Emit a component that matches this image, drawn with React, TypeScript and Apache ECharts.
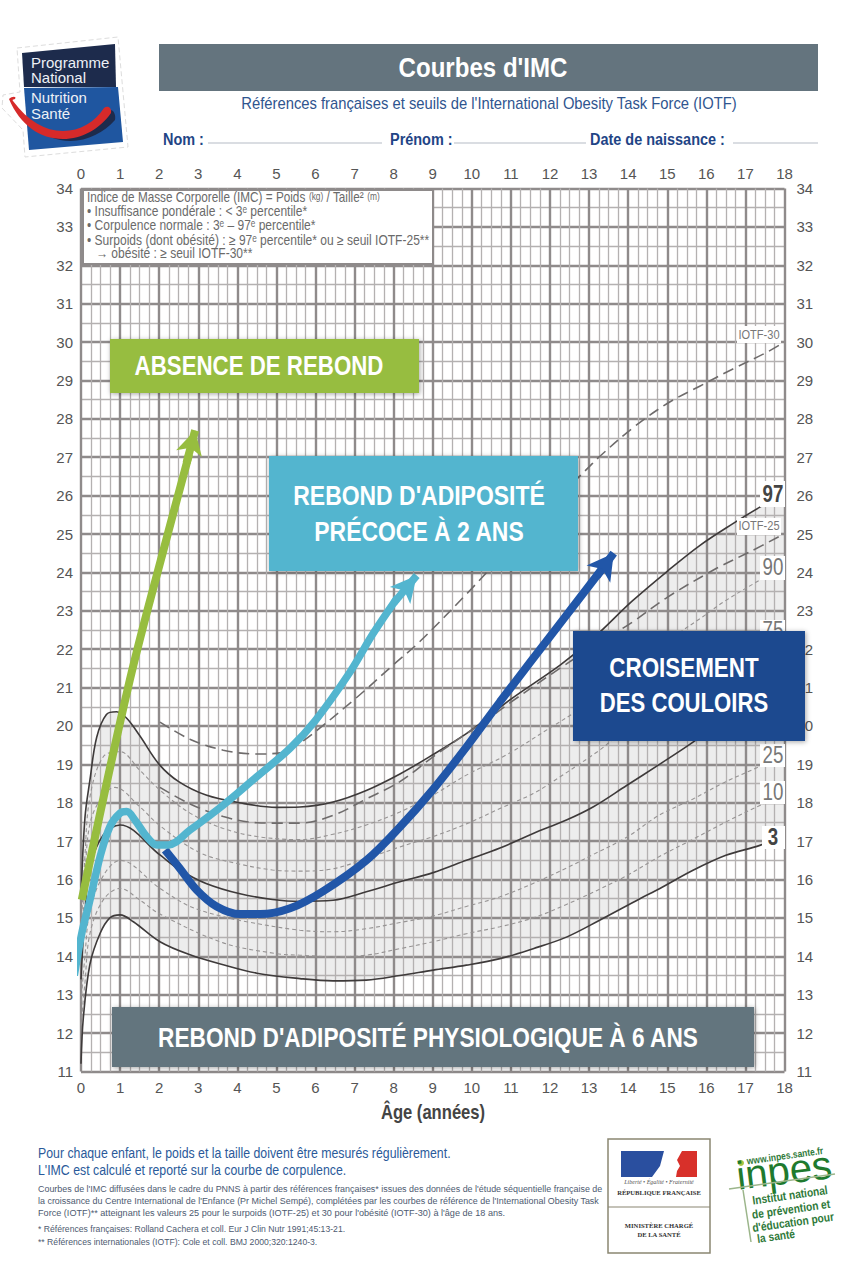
import React, { useEffect, useRef } from "react";
import * as echarts from "echarts";

type P = [number, number];

const ageTicks = [0, 18];
const bmiRange = [11, 34];

const p97: P[] = [[0,15.5],[0.1,17.6],[0.23,18.6],[0.4,19.7],[0.65,20.3],[0.91,20.37],[1.17,20.2],[1.5,19.75],[2,19],[2.5,18.55],[3.2,18.2],[4.05,18],[5,17.88],[5.6,17.89],[6.45,18.02],[7.3,18.32],[8.16,18.75],[9,19.25],[9.86,19.8],[10.37,20.19],[11,20.7],[12.25,21.58],[13.1,22.28],[14.1,23.25],[15,24.03],[15.83,24.7],[16.68,25.27],[17.37,25.7],[18,26.05]];
const p90: P[] = [[0,14.5],[0.1,16.6],[0.23,18.16],[0.57,19.2],[1,19.33],[1.5,18.85],[2.02,18.33],[2.79,17.73],[3.64,17.33],[4.5,17.12],[5.6,17.04],[6.45,17.18],[7.3,17.42],[8.16,17.76],[9.01,18.2],[9.86,18.72],[10.89,19.25],[12,19.95],[12.55,20.3],[14,21.3],[15,22.2],[15.9,22.84],[16.47,23.25],[17.37,23.8],[18,24.15]];
const p75: P[] = [[0,13.9],[0.1,15.9],[0.23,17.46],[0.57,18.2],[0.87,18.4],[1.5,17.9],[2.02,17.4],[3.04,16.7],[4.07,16.4],[4.9,16.25],[5.6,16.22],[6.45,16.28],[7.3,16.55],[8.16,16.85],[9.01,17.12],[9.86,17.45],[10.72,17.85],[11.57,18.24],[12.25,18.67],[13.27,19.37],[13.53,19.58],[15,20.7],[16,21.5],[17,22.1],[18,22.5]];
const p50: P[] = [[0,13.4],[0.1,15.1],[0.23,16.33],[0.57,17.16],[1,17.42],[2.02,16.64],[2.53,16.25],[3.2,15.9],[4.07,15.63],[4.9,15.48],[5.6,15.43],[6.45,15.46],[7.3,15.68],[8.16,15.94],[9.01,16.18],[9.86,16.5],[10.72,16.82],[11.57,17.2],[12.42,17.55],[13.1,17.89],[13.96,18.45],[14.8,19],[15.66,19.58],[16,19.85],[17,20.5],[18,21]];
const p25: P[] = [[0,12.8],[0.1,14.0],[0.23,15.2],[0.57,16.1],[1,16.5],[2.02,15.77],[2.79,15.3],[3.64,15.03],[4.24,14.9],[5.6,14.68],[6.45,14.64],[7.3,14.72],[8.16,14.88],[9.01,15.05],[9.86,15.3],[10.72,15.55],[11.57,15.9],[12.42,16.3],[13.1,16.65],[13.96,17.1],[14.8,17.68],[15.66,18.1],[16.5,18.55],[17.37,18.95],[18,19.3]];
const p10: P[] = [[0,12.2],[0.1,13.3],[0.23,14.6],[0.57,15.47],[1,15.77],[1.5,15.47],[2.02,15.1],[3.64,14.35],[5,14.07],[5.6,14.03],[6.45,13.99],[7.3,14.03],[8.16,14.2],[9.01,14.38],[9.86,14.59],[10.72,14.77],[11.57,15.0],[12.42,15.35],[13.27,15.75],[13.96,16.1],[14.8,16.6],[15.66,17.05],[16.5,17.5],[17.37,17.93],[18,18.2]];
const p3: P[] = [[0,11.2],[0.06,12.4],[0.23,13.8],[0.49,14.6],[0.74,15],[1,15.08],[1.34,14.9],[2.02,14.38],[2.79,14.04],[3.64,13.78],[4.5,13.56],[5.6,13.42],[6.45,13.36],[7.3,13.38],[8.16,13.5],[9.01,13.64],[9.86,13.77],[10.72,13.94],[11.57,14.2],[12.42,14.5],[13.27,14.94],[14.3,15.5],[14.8,15.76],[15.66,16.24],[16.5,16.63],[17.37,16.89],[18,17.15]];
const iotf30: P[] = [[2.02,20.1],[2.8,19.65],[3.64,19.37],[4.5,19.27],[5.09,19.3],[5.6,19.55],[6.97,20.67],[8,21.6],[8.67,22.2],[9.95,23.53],[11.48,25.2],[13,26.75],[13.27,27.02],[14.1,27.75],[15,28.4],[15.83,28.85],[16.68,29.3],[17.54,29.73],[17.95,29.97]];
const iotf25: P[] = [[2.02,18.4],[2.79,17.97],[3.64,17.64],[4.5,17.48],[5.09,17.47],[5.6,17.47],[6.45,17.67],[7.3,18.1],[8.16,18.55],[9,19.19],[9.86,19.8],[10.37,20.15],[11,20.62],[12.25,21.5],[13,22.0],[14.1,22.7],[15,23.35],[16.25,24.1],[17.1,24.53],[17.95,24.98]];

const trendGreen: P[] = [[0.02,15.47],[1.25,21.2],[2.22,25],[2.76,27.05]];
const trendGreenHead: P[] = [[2.7,26.85],[2.92,27.7]];
const trendTeal: P[] = [[-0.17,13.5],[0.02,14.6],[0.23,15.47],[0.49,16.6],[0.74,17.38],[1,17.73],[1.17,17.77],[1.38,17.55],[1.68,17.12],[1.94,16.9],[2.23,16.9],[2.79,17.29],[3.64,17.94],[4.5,18.68],[5.35,19.42],[5.98,20.12],[6.88,21.4],[7.47,22.4],[8.1,23.35]];
const trendTealHead: P[] = [[8.0,23.2],[8.59,23.92]];
const trendBlue: P[] = [[2.15,16.77],[2.53,16.29],[2.96,15.73],[3.47,15.3],[4.07,15.1],[4.58,15.1],[5.35,15.25],[6.2,15.7],[7.3,16.5],[8.16,17.37],[9.01,18.35],[9.86,19.45],[10.72,20.63],[12.25,22.66],[13.3,24.05]];
const trendBlueHead: P[] = [[13.2,23.9],[13.63,24.5]];

const SANS = '"Liberation Sans",Arial,sans-serif';

echarts.graphic.registerShape("swooshRed", echarts.graphic.extendPath("M9 99 C 12 96 17 96 15 99 C 13 100 12 99 13 101 C 28 121 45 131 63 131 C 80 131 95 122 104 108 C 108 105 112 108 111 113 C 100 129 82 139 63 139 C 40 139 20 125 9 99 Z", {}));
echarts.graphic.registerShape("swooshDark", echarts.graphic.extendPath("M50 137 C 70 142 95 130 110 110 C 114 110 116 115 115 120 C 100 137 75 147 50 137 Z", {}));

function txt(text: string, x: number, y: number, size: number, fill: string, extra: any = {}) {
  const { align = "left", weight = "normal", family = SANS, rich, style, scaleX = 0.85, ...rest } = extra;
  return {
    type: "text", x, y, z: 100, scaleX, ...rest,
    style: {
      text, fill, rich, fontSize: size, fontFamily: family, fontWeight: weight,
      font: `${weight} ${size}px ${family}`,
      align, textAlign: align, verticalAlign: "middle", textVerticalAlign: "middle", ...style,
    },
  };
}
function box(x: number, y: number, width: number, height: number, fill: string, extra: any = {}) {
  const { stroke, lineWidth, shadow, z = 100 } = extra;
  return {
    type: "rect", z, shape: { x, y, width, height },
    style: { fill, stroke, lineWidth, ...(shadow ? { shadowBlur: 5, shadowColor: "rgba(0,0,0,0.35)", shadowOffsetX: 1, shadowOffsetY: 1 } : {}) },
  };
}
function seg(x1: number, y1: number, x2: number, y2: number, stroke: string, lineWidth: number) {
  return { type: "line", z: 100, shape: { x1, y1, x2, y2 }, style: { stroke, lineWidth } };
}

const SLATE = "#64747e", NAVY = "#1f4586", GREEN = "#97bd3f", TEAL = "#53b5cf", BLUE = "#1e4a8f", LINE_BLUE = "#2156a8", DGREEN = "#2f7a3a";
const GRAYTXT = "#6a6a6a";
const labelNum = { align: "center", scaleX: 0.78 };

const graphicEls: any[] = [
  // PNNS logo
  { type: "polygon", z: 99, shape: { points: [[17,48],[118,37],[128,147],[25,157],[23,130],[2,108],[3,95],[20,92]] }, style: { fill: "#fff", stroke: "#ddd", lineWidth: 1, lineDash: [5, 3] } },
  { type: "polygon", z: 100, shape: { points: [[22,53],[115,44],[116,87],[24,87]] }, style: { fill: "#1d2b4c" } },
  { type: "polygon", z: 100, shape: { points: [[24,88],[118,87],[123,142],[29,150]] }, style: { fill: "#1f56a0" } },
  txt("Programme", 31, 62, 15, "#eef1f6", { scaleX: 1 }),
  txt("National", 31, 77, 15, "#eef1f6", { scaleX: 1 }),
  txt("Nutrition", 31, 97, 15, "#eef1f6", { scaleX: 1 }),
  txt("Santé", 31, 113, 15, "#eef1f6", { scaleX: 1 }),
  { type: "swooshDark", z: 100, x: 0, y: 0, style: { fill: "#1d2b4c" } },
  { type: "swooshRed", z: 101, x: 0, y: 0, style: { fill: "#d62a2a" } },
  // header
  box(159, 44, 659, 47, SLATE),
  txt("Courbes d'IMC", 483, 67, 28, "#fff", { align: "center", weight: "bold", scaleX: 0.86 }),
  txt("Références françaises et seuils de l'International Obesity Task Force (IOTF)", 489, 103, 17, "#2f558f", { align: "center", scaleX: 0.87 }),
  txt("Nom :", 163, 139, 17, NAVY, { weight: "bold" }),
  txt("Prénom :", 390, 139, 17, NAVY, { weight: "bold" }),
  txt("Date de naissance :", 590, 139, 17, NAVY, { weight: "bold" }),
  seg(208, 143, 382, 143, "#b5bcc6", 1.2), seg(454, 143, 586, 143, "#b5bcc6", 1.2), seg(733, 143, 818, 143, "#b5bcc6", 1.2),
  // definition box
  box(83, 190, 350, 74, "#fff", { stroke: "#8e8a8a", lineWidth: 2 }),
  txt("{a|Indice de Masse Corporelle (IMC) = Poids }{b|(kg)}{a| / Taille² }{b|(m)}", 87, 197, 14, GRAYTXT, { scaleX: 0.84, style: { rich: { a: { fontSize: 14, fontFamily: SANS, fill: GRAYTXT }, b: { fontSize: 10, fontFamily: SANS, fill: GRAYTXT } } } }),
  txt("• Insuffisance pondérale : < 3ᵉ percentile*", 87, 211, 14, GRAYTXT, { scaleX: 0.86 }),
  txt("• Corpulence normale : 3ᵉ – 97ᵉ percentile*", 87, 225, 14, GRAYTXT, { scaleX: 0.86 }),
  txt("• Surpoids (dont obésité) : ≥ 97ᵉ percentile* ou ≥ seuil IOTF-25**", 87, 240, 14, GRAYTXT, { scaleX: 0.86 }),
  txt("→ obésité : ≥ seuil IOTF-30**", 96, 253, 14, GRAYTXT, { scaleX: 0.86 }),
  // curve labels
  box(737, 326, 44, 17, "#fff"), txt("IOTF-30", 759, 335, 13, "#777", { align: "center" }),
  box(737, 518, 44, 17, "#fff"), txt("IOTF-25", 759, 526, 13, "#777", { align: "center" }),
  box(760, 481, 25, 26, "#fff"), txt("97", 773, 494, 24, "#444", { ...labelNum, weight: "bold" }),
  box(760, 556, 25, 24, "#fff"), txt("90", 773, 567, 24, "#777", labelNum),
  box(760, 620, 25, 24, "#fff"), txt("75", 773, 630, 24, "#777", labelNum),
  box(760, 744, 25, 23, "#fff"), txt("25", 773, 755, 24, "#777", labelNum),
  box(760, 781, 25, 23, "#fff"), txt("10", 773, 792, 24, "#777", labelNum),
  box(762, 826, 23, 23, "#fff"), txt("3", 773, 837, 24, "#444", { ...labelNum, weight: "bold" }),
  // callouts
  box(110, 339, 309, 54, GREEN, { z: 102, shadow: true }),
  txt("ABSENCE DE REBOND", 259, 366, 27, "#fff", { align: "center", weight: "bold", z: 103, scaleX: 0.825 }),
  box(269, 456, 309, 115, TEAL, { z: 102, shadow: true }),
  txt("REBOND D'ADIPOSITÉ", 419, 495, 27, "#fff", { align: "center", weight: "bold", z: 103 }),
  txt("PRÉCOCE À 2 ANS", 419, 531, 27, "#fff", { align: "center", weight: "bold", z: 103 }),
  box(573, 631, 232, 110, BLUE, { z: 102, shadow: true }),
  txt("CROISEMENT", 684, 668, 27, "#fff", { align: "center", weight: "bold", z: 103, scaleX: 0.83 }),
  txt("DES COULOIRS", 684, 703, 27, "#fff", { align: "center", weight: "bold", z: 103, scaleX: 0.82 }),
  box(112, 1007, 642, 60, SLATE, { z: 102, shadow: true }),
  txt("REBOND D'ADIPOSITÉ PHYSIOLOGIQUE À 6 ANS", 428, 1037, 27, "#fff", { align: "center", weight: "bold", z: 103, scaleX: 0.84 }),
  // axis title
  txt("Âge (années)", 433, 1112, 20, "#444", { align: "center", weight: "bold", scaleX: 0.83 }),
  // footer
  txt("Pour chaque enfant, le poids et la taille doivent être mesurés régulièrement.", 38, 1153, 14.5, "#2a5a9a"),
  txt("L'IMC est calculé et reporté sur la courbe de corpulence.", 38, 1170, 14.5, "#2a5a9a"),
  txt("Courbes de l'IMC diffusées dans le cadre du PNNS à partir des références françaises* issues des données de l'étude séquentielle française de", 38, 1189, 9.6, "#4d5a70", { scaleX: 0.93 }),
  txt("la croissance du Centre International de l'Enfance (Pr Michel Sempé), complétées par les courbes de référence de l'International Obesity Task", 38, 1201, 9.6, "#4d5a70", { scaleX: 0.93 }),
  txt("Force (IOTF)** atteignant les valeurs 25 pour le surpoids (IOTF-25) et 30 pour l'obésité (IOTF-30) à l'âge de 18 ans.", 38, 1213, 9.6, "#4d5a70", { scaleX: 0.95 }),
  txt("* Références françaises: Rolland Cachera et coll. Eur J Clin Nutr 1991;45:13-21.", 38, 1229, 9.6, "#4d5a70", { scaleX: 0.9 }),
  txt("** Références internationales (IOTF): Cole et coll. BMJ 2000;320:1240-3.", 38, 1242, 9.6, "#4d5a70", { scaleX: 0.9 }),
  // ministry
  box(608, 1139, 102, 114, "#fff", { stroke: "#8a8672", lineWidth: 1.5 }),
  seg(608, 1207, 710, 1207, "#8a8672", 1.2),
  box(621, 1151, 50, 26, "#2a4f9f"), box(671, 1151, 26, 26, "#d8302a"),
  { type: "polygon", z: 100, shape: { points: [[664,1151],[682,1151],[677,1160],[680,1166],[677,1171],[676,1177],[652,1177],[660,1166]] }, style: { fill: "#fff" } },
  txt("Liberté • Égalité • Fraternité", 659, 1182, 6, "#555", { align: "center", family: "Liberation Serif", scaleX: 1, style: { fontStyle: "italic" } }),
  txt("RÉPUBLIQUE FRANÇAISE", 659, 1192, 6.6, "#333", { align: "center", family: "Liberation Serif", weight: "bold", scaleX: 1 }),
  txt("MINISTÈRE CHARGÉ", 659, 1225, 6.6, "#333", { align: "center", family: "Liberation Serif", weight: "bold", scaleX: 1 }),
  txt("DE LA SANTÉ", 659, 1234, 6.6, "#333", { align: "center", family: "Liberation Serif", weight: "bold", scaleX: 1 }),
  // inpes
  { type: "circle", z: 100, shape: { cx: 741, cy: 1163, r: 3 }, style: { fill: "#a4c441" } },
  txt("www.inpes.sante.fr", 785, 1156, 10, DGREEN, { align: "center", weight: "bold", rotation: 0.14 }),
  txt("inpes", 784, 1170, 40, "#1f7a2e", { align: "center", rotation: 0.12, scaleX: 1 }),
  seg(729, 1189, 835, 1174, "#9bb58a", 1.5),
  seg(743, 1190, 751, 1242, "#9bb58a", 1.5),
  txt("Institut national", 790, 1195, 12, DGREEN, { align: "center", weight: "bold", rotation: 0.14 }),
  txt("de prévention et", 791, 1209, 12, DGREEN, { align: "center", weight: "bold", rotation: 0.14 }),
  txt("d'éducation pour", 793, 1222, 12, DGREEN, { align: "center", weight: "bold", rotation: 0.14 }),
  txt("la santé", 776, 1236, 12, DGREEN, { align: "center", weight: "bold", rotation: 0.14 }),
];

function curve(name: string, data: P[], kind: "solid" | "iotf" | "pct") {
  const s = {
    solid: { color: "#3e3a3a", width: 1.6, type: "solid" as any },
    iotf: { color: "#6e6b6b", width: 1.6, type: [11, 6] as any },
    pct: { color: "#979494", width: 1.1, type: [4, 3] as any },
  }[kind];
  return { name, type: "line", data, z: 2, symbol: "none", smooth: 0.35, lineStyle: s, silent: true };
}
function trend(name: string, data: P[], head: P[], color: string, width: number, arrow: number[], z: number) {
  return {
    name, type: "line", data, z, symbol: "none", smooth: 0.35, clip: false, silent: true,
    lineStyle: { color, width, cap: "butt" },
    markLine: {
      silent: true, animation: false, symbol: ["none", "arrow"], symbolSize: arrow,
      label: { show: false }, lineStyle: { color, width, type: "solid" },
      data: [[{ coord: head[0] }, { coord: head[1] }]],
    },
  };
}

const labelStyle = { fontFamily: SANS, fontSize: 15, color: "#555" };
const hiddenAxis = { axisLine: { show: false }, axisTick: { show: false }, splitLine: { show: false } };

export default function App() {
  const ref = useRef<HTMLDivElement>(null);
  useEffect(() => {
    const chart = echarts.init(ref.current!, undefined, { renderer: "svg" });
    const bandPoints: P[] = [...p97, ...[...p3].reverse()];
    const xBase = { type: "value", min: ageTicks[0], max: ageTicks[1], interval: 1 };
    const yBase = { type: "value", min: bmiRange[0], max: bmiRange[1], interval: 1 };
    const major = { show: true, lineStyle: { color: "#8f8b8b", width: 2.4 } };
    const minor = { show: true, lineStyle: { color: "#b4b1b1", width: 1.3 } };
    chart.setOption({
      animation: false,
      backgroundColor: "#fff",
      grid: { left: 81, top: 188.5, width: 703.5, height: 883 },
      xAxis: [
        { ...xBase, position: "bottom", z: 1, axisLine: { show: false }, axisTick: { show: false }, axisLabel: { ...labelStyle, margin: 8 }, splitLine: major, minorTick: { show: false, splitNumber: 4 }, minorSplitLine: minor },
        { ...xBase, position: "top", ...hiddenAxis, axisLabel: { ...labelStyle, margin: 8 } },
      ],
      yAxis: [
        { ...yBase, position: "left", z: 1, axisLine: { show: false }, axisTick: { show: false }, axisLabel: { ...labelStyle, margin: 8 }, splitLine: major, minorTick: { show: false, splitNumber: 2 }, minorSplitLine: minor },
        { ...yBase, position: "right", ...hiddenAxis, axisLabel: { ...labelStyle, margin: 12 } },
      ],
      series: [
        {
          type: "custom", name: "band", z: 0, silent: true, data: bandPoints,
          renderItem: (params: any, api: any) => {
            if (params.dataIndex !== 0) return null;
            return { type: "polygon", shape: { points: bandPoints.map((p) => api.coord(p)) }, style: { fill: "#ededed" } };
          },
        },
        curve("P97", p97, "solid"),
        curve("P90", p90, "pct"),
        curve("P75", p75, "pct"),
        curve("P50", p50, "solid"),
        curve("P25", p25, "pct"),
        curve("P10", p10, "pct"),
        curve("P3", p3, "solid"),
        curve("IOTF-30", iotf30, "iotf"),
        curve("IOTF-25", iotf25, "iotf"),
        trend("Absence de rebond", trendGreen, trendGreenHead, GREEN, 8, [20, 24], 3),
        trend("Croisement", trendBlue, trendBlueHead, LINE_BLUE, 8, [22, 26], 3),
        trend("Rebond précoce", trendTeal, trendTealHead, TEAL, 7.5, [20, 26], 4),
      ],
      graphic: { elements: graphicEls },
    });
    return () => chart.dispose();
  }, []);
  return <div ref={ref} style={{ position: "absolute", left: 0, top: 0, width: 865, height: 1280 }} />;
}
